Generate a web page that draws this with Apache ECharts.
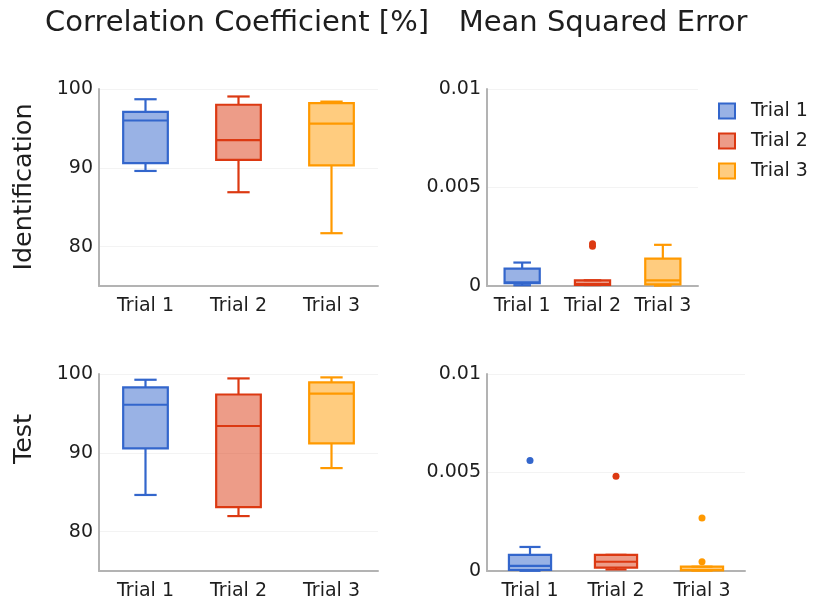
<!DOCTYPE html>
<html>
<head>
<meta charset="utf-8">
<script src="https://cdn.jsdelivr.net/npm/echarts@6/dist/echarts.min.js"></script>
<style>
  html, body { margin: 0; padding: 0; background: #fff; }
  #chart { width: 815px; height: 601px; }
</style>
</head>
<body>
<div id="chart"></div>
<script>
const categories = ['Trial 1', 'Trial 2', 'Trial 3'];

// Five-number summaries per trial: [min, q1, median, q3, max]
const ccIdentification = [
  [89.6, 90.6, 96.0, 97.1, 98.7],
  [86.9, 91.0, 93.5, 98.0, 99.05],
  [81.7, 90.3, 95.6, 98.2, 98.4]
];
const ccTest = [
  [84.65, 90.55, 96.1, 98.3, 99.27],
  [81.97, 83.1, 93.4, 97.4, 99.44],
  [88.06, 91.2, 97.5, 98.93, 99.57]
];
const mseIdentification = [
  [0.00004, 0.00014, 0.00018, 0.00088, 0.00119],
  [0.00005, 0.00005, 0.0001, 0.00029, 0.00029],
  [0.00002, 0.00008, 0.00029, 0.00139, 0.00209]
];
const mseTest = [
  [0.00001, 0.00005, 0.00026, 0.00082, 0.00122],
  [0.00008, 0.00017, 0.00047, 0.00082, 0.00082],
  [0.00002, 0.00003, 0.00005, 0.00022, 0.00022]
];

// Points beyond the whiskers
const ccIdentificationOutliers = [[], [], []];
const ccTestOutliers = [[], [], []];
const mseIdentificationOutliers = [[], [0.00202, 0.00215], []];
const mseTestOutliers = [[0.00561], [0.00481], [0.00047, 0.00269]];

const ccTicks = [80, 90, 100];
const mseTicks = [0, 0.005, 0.01];

const columnTitles = ['Correlation Coefficient [%]', 'Mean Squared Error'];
const rowTitles = ['Identification', 'Test'];

const strokes = ['#3366CC', '#DC3912', '#FF9900'];
const fills = ['rgba(51,102,204,0.5)', 'rgba(220,57,18,0.5)', 'rgba(255,153,0,0.5)'];

const FONT = 'DejaVu Sans';
const TICK_SIZE = 19;
const TEXT_COLOR = '#1e1e1e';
const STROKE_W = 2.2;

// Box drawn with half-width whisker caps, positioned through the axis scales
function boxRenderer(stroke, fill, ratio) {
  return function (params, api) {
    const cat = api.value(0);
    const pMin = api.coord([cat, api.value(1)]);
    const pQ1 = api.coord([cat, api.value(2)]);
    const pMed = api.coord([cat, api.value(3)]);
    const pQ3 = api.coord([cat, api.value(4)]);
    const pMax = api.coord([cat, api.value(5)]);
    const band = api.size([1, 0])[0];
    const hw = band * ratio / 2;
    const cw = hw / 2;
    const cx = pMed[0];
    const ls = { stroke: stroke, lineWidth: STROKE_W, fill: null };
    return {
      type: 'group',
      children: [
        { type: 'line', shape: { x1: cx, y1: pMax[1], x2: cx, y2: pQ3[1] }, style: ls },
        { type: 'line', shape: { x1: cx - cw, y1: pMax[1], x2: cx + cw, y2: pMax[1] }, style: ls },
        { type: 'line', shape: { x1: cx, y1: pMin[1], x2: cx, y2: pQ1[1] }, style: ls },
        { type: 'line', shape: { x1: cx - cw, y1: pMin[1], x2: cx + cw, y2: pMin[1] }, style: ls },
        { type: 'rect', shape: { x: cx - hw, y: pQ3[1], width: 2 * hw, height: pQ1[1] - pQ3[1] },
          style: { fill: fill, stroke: stroke, lineWidth: STROKE_W } },
        { type: 'line', shape: { x1: cx - hw, y1: pMed[1], x2: cx + hw, y2: pMed[1] }, style: ls }
      ]
    };
  };
}

const panels = [
  { grid: { left: 99, top: 89, width: 279, height: 197 }, stats: ccIdentification, outliers: ccIdentificationOutliers,
    min: 75, max: 100, ticks: ccTicks, ratio: 0.48 },
  { grid: { left: 487, top: 89, width: 211, height: 197 }, stats: mseIdentification, outliers: mseIdentificationOutliers,
    min: 0, max: 0.01, ticks: mseTicks, ratio: 0.5 },
  { grid: { left: 99, top: 374, width: 279, height: 197 }, stats: ccTest, outliers: ccTestOutliers,
    min: 75, max: 100, ticks: ccTicks, ratio: 0.48 },
  { grid: { left: 487, top: 374, width: 258, height: 197 }, stats: mseTest, outliers: mseTestOutliers,
    min: 0, max: 0.01, ticks: mseTicks, ratio: 0.49 }
];

const grid = [], xAxis = [], yAxis = [], series = [];

panels.forEach(function (p, g) {
  grid.push(Object.assign({ containLabel: false }, p.grid));
  xAxis.push({
    type: 'category', gridIndex: g, data: categories,
    axisLine: { show: true, lineStyle: { color: '#b3b3b3', width: 2 } },
    axisTick: { show: false },
    axisLabel: { color: TEXT_COLOR, fontFamily: FONT, fontSize: TICK_SIZE, margin: 11, interval: 0, hideOverlap: false },
    splitLine: { show: false }
  });
  yAxis.push({
    type: 'value', gridIndex: g, min: p.min, max: p.max,
    axisLine: { show: true, lineStyle: { color: '#b3b3b3', width: 2 } },
    axisTick: { show: false, customValues: p.ticks },
    axisLabel: { color: TEXT_COLOR, fontFamily: FONT, fontSize: TICK_SIZE, margin: 6, customValues: p.ticks },
    splitLine: { show: true, lineStyle: { color: '#f3f3f3', width: 1 } }
  });
  categories.forEach(function (name, t) {
    series.push({
      type: 'custom', name: name, xAxisIndex: g, yAxisIndex: g,
      renderItem: boxRenderer(strokes[t], fills[t], p.ratio),
      encode: { x: 0, y: [1, 2, 3, 4, 5] },
      itemStyle: { color: fills[t], borderColor: strokes[t] },
      data: [[t].concat(p.stats[t])],
      silent: true
    });
    if (p.outliers[t].length) {
      series.push({
        type: 'scatter', name: name, xAxisIndex: g, yAxisIndex: g,
        symbol: 'circle', symbolSize: 7,
        itemStyle: { color: strokes[t], opacity: 1 },
        data: p.outliers[t].map(function (v) { return [t, v]; }),
        silent: true
      });
    }
  });
});

const titleStyle = { fill: TEXT_COLOR, font: '29px "' + FONT + '"', align: 'center', verticalAlign: 'middle' };
const rowStyle = { fill: TEXT_COLOR, font: '25.5px "' + FONT + '"', align: 'center', verticalAlign: 'middle' };

const chart = echarts.init(document.getElementById('chart'), null, { renderer: 'canvas' });
chart.setOption({
  animation: false,
  backgroundColor: '#ffffff',
  grid: grid,
  xAxis: xAxis,
  yAxis: yAxis,
  legend: {
    orient: 'vertical', left: 718, top: 101, padding: 0,
    icon: 'rect', itemWidth: 16, itemHeight: 15, itemGap: 10,
    selectedMode: false,
    textStyle: { color: TEXT_COLOR, fontFamily: FONT, fontSize: TICK_SIZE, lineHeight: 20, padding: [0, 0, 0, 11] },
    data: categories.map(function (c, i) {
      return { name: c, itemStyle: { color: fills[i], borderColor: strokes[i], borderWidth: 2 } };
    })
  },
  graphic: [
    { type: 'text', x: 237, y: 23, style: Object.assign({ text: columnTitles[0] }, titleStyle) },
    { type: 'text', x: 603, y: 23, style: Object.assign({ text: columnTitles[1] }, titleStyle) },
    { type: 'text', x: 24, y: 187, rotation: Math.PI / 2, style: Object.assign({ text: rowTitles[0] }, rowStyle) },
    { type: 'text', x: 24, y: 439, rotation: Math.PI / 2, style: Object.assign({ text: rowTitles[1] }, rowStyle) }
  ],
  series: series
});
</script>
</body>
</html>
